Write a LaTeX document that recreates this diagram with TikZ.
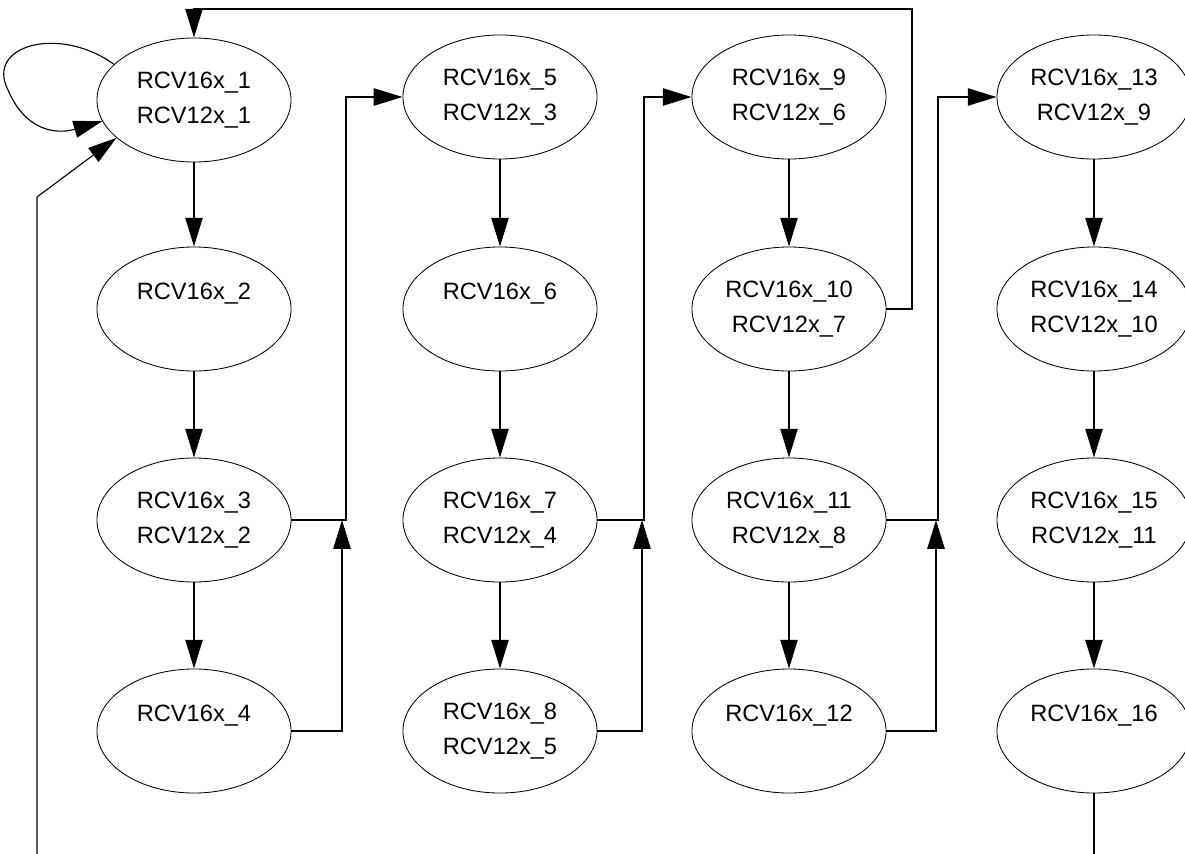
\documentclass[tikz,border=0pt]{standalone}
\usepackage{fontspec}
\setmainfont{Liberation Sans}
\usetikzlibrary{arrows.meta,shapes.geometric}

\begin{document}
\begin{tikzpicture}[x=0.025cm, y=-0.025cm,
  state/.style={draw, ellipse, line width=0.6pt, minimum width=4.85cm, minimum height=3.1cm, inner sep=0pt, align=center, font=\fontsize{16.8}{25}\selectfont},
  arrow/.style={-{Triangle[length=0.72cm, width=0.43cm]}, line width=1.4pt},
  thin arrow/.style={arrow, line width=0.8pt},
  thin line/.style={line width=0.9pt}
]
\useasboundingbox (0,0) rectangle (1185,854);
% column 1
\node[state] (s1) at (194,100) {RCV16x\_1\\RCV12x\_1};
\node[state] (s2) at (194,309) {RCV16x\_2\\\mbox{}};
\node[state] (s3) at (194,520) {RCV16x\_3\\RCV12x\_2};
\node[state] (s4) at (194,731) {RCV16x\_4\\\mbox{}};
% column 2
\node[state] (s5) at (500,97) {RCV16x\_5\\RCV12x\_3};
\node[state] (s6) at (500,309) {RCV16x\_6\\\mbox{}};
\node[state] (s7) at (500,520) {RCV16x\_7\\RCV12x\_4};
\node[state] (s8) at (500,731) {RCV16x\_8\\RCV12x\_5};
% column 3
\node[state] (s9) at (789,97) {RCV16x\_9\\RCV12x\_6};
\node[state] (s10) at (789,309) {RCV16x\_10\\RCV12x\_7};
\node[state] (s11) at (789,520) {RCV16x\_11\\RCV12x\_8};
\node[state] (s12) at (789,731) {RCV16x\_12\\\mbox{}};
% column 4
\node[state] (s13) at (1094,97) {RCV16x\_13\\RCV12x\_9};
\node[state] (s14) at (1094,309) {RCV16x\_14\\RCV12x\_10};
\node[state] (s15) at (1094,520) {RCV16x\_15\\RCV12x\_11};
\node[state] (s16) at (1094,731) {RCV16x\_16\\\mbox{}};

\coordinate (j1) at (342,520);
\coordinate (j2) at (642,520);
\coordinate (j3) at (936,520);
\coordinate (topR) at (912,9);
\coordinate (bendL) at (37,197);
\coordinate (inL) at (37,854);
\coordinate (outR) at (1094,854);

% straight down
\foreach \a/\b in {1/2,2/3,3/4,5/6,6/7,7/8,9/10,10/11,11/12,13/14,14/15,15/16}
  \draw[arrow] (s\a.south) -- (s\b.north);

% to the next column
\draw[arrow] (s3.east) -- ++(55,0) |- (s5.west);
\draw[arrow] (s4.east) -| (j1);
\draw[arrow] (s7.east) -- ++(47,0) |- (s9.west);
\draw[arrow] (s8.east) -| (j2);
\draw[arrow] (s11.east) -- ++(52,0) |- (s13.west);
\draw[arrow] (s12.east) -| (j3);
\draw[arrow] (s10.east) -| (topR) -| (s1.north);

% loops back
\draw[thin arrow] (s1.156) .. controls (60,25) and (-15,45) .. (8,90)
  .. controls (25,130) and (55,135) .. (s1.193);
\draw[thin arrow] (inL) -- (bendL) -- (s1.206);
\draw[thin line] (s16.south) -- (outR);
\end{tikzpicture}
\end{document}
